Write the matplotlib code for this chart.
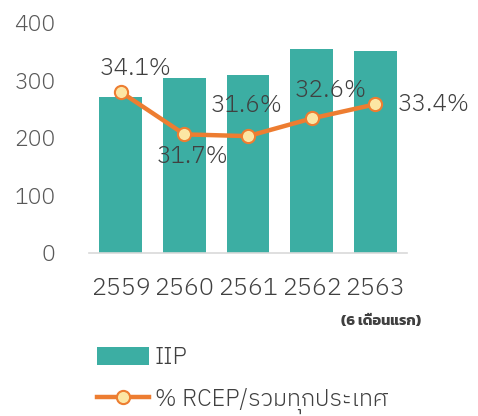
import matplotlib
matplotlib.use('Agg')
import matplotlib.pyplot as plt
from matplotlib.patches import Patch
from matplotlib.lines import Line2D

years = ['2559', '2560', '2561', '2562', '2563']
iip = [271, 305, 310, 354, 351]
rcep_pct = [34.1, 31.7, 31.6, 32.6, 33.4]
pct_labels = ['34.1%', '31.7%', '31.6%', '32.6%', '33.4%']
label_offsets = [(11, 17), (6, -16), (-1, 22), (14, 20), (42, 0)]  # points

bar_color = '#3CAEA3'
line_color = '#ED7D31'
marker_face = '#FCE6A4'
text_gray = '#595959'

plt.rcParams['font.family'] = ['IBM Plex Sans Thai', 'DejaVu Sans']
plt.rcParams['font.weight'] = 300

fig = plt.figure(figsize=(4.78, 4.16), dpi=100)
ax = fig.add_axes([0.186, 0.392, 0.666, 0.553])
x = range(len(years))
ax.bar(x, iip, width=0.67, color=bar_color, zorder=2)
ax.set_xlim(-0.5, 4.5)
ax.set_ylim(0, 400)
ax.set_yticks([0, 100, 200, 300, 400])
ax.set_xticks(list(x))
ax.set_xticklabels(years)
ax.tick_params(axis='y', length=0, pad=24, labelsize=16.5, labelcolor=text_gray)
ax.tick_params(axis='x', length=0, pad=17, labelsize=18, labelcolor='#404040')
for s in ['top', 'right', 'left']:
    ax.spines[s].set_visible(False)
ax.spines['bottom'].set_color('#D9D9D9')
ax.spines['bottom'].set_linewidth(1.2)

ax2 = ax.twinx()
ax2.set_ylim(25, 38)
ax2.plot(x, rcep_pct, color=line_color, lw=3.2, marker='o', ms=9.5,
         mfc=marker_face, mec=line_color, mew=1.5, zorder=3)
ax2.axis('off')
for i, (v, lab) in enumerate(zip(rcep_pct, pct_labels)):
    ax2.annotate(lab, (i, v), xytext=label_offsets[i], textcoords='offset points',
                 ha='center', va='center', fontsize=17.5, color='#404040')

fig.text(0.797, 0.228, '(6 เดือนแรก)', family=['Kanit', 'DejaVu Sans'],
         fontsize=10.5, fontweight='bold', color='#404040', ha='center', va='center')

handles = [Patch(facecolor=bar_color, edgecolor='none'),
           Line2D([0], [0], color=line_color, lw=3.2, marker='o', ms=9.5,
                  mfc=marker_face, mec=line_color, mew=1.5)]
fig.legend(handles, ['IIP', '% RCEP/รวมทุกประเทศ'], loc='upper left',
           bbox_to_anchor=(0.203, 0.168), frameon=False, fontsize=17,
           labelcolor='#404040', handlelength=2.2, handleheight=0.8,
           handletextpad=0.25, labelspacing=0.78, borderpad=0, borderaxespad=0)

fig.savefig('out.png', dpi=100)
